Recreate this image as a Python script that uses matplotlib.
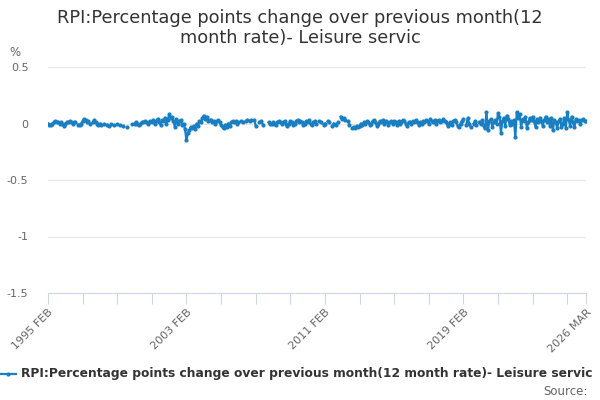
import numpy as np
import matplotlib
matplotlib.use("Agg")
import matplotlib.pyplot as plt
from matplotlib.lines import Line2D

nan = np.nan
title = "RPI:Percentage points change over previous month(12\nmonth rate)- Leisure servic"
series_name = "RPI:Percentage points change over previous month(12 month rate)- Leisure servic"
start_year, start_month = 1995, 2

y1995 = [0.00, -0.01, -0.01, 0.00, 0.01, 0.02, 0.01, 0.01, 0.00, 0.01, 0.00]
y1996 = [-0.02, 0.00, 0.01, 0.01, 0.02, 0.01, 0.00, 0.01, 0.01, nan, -0.01, -0.01]
y1997 = [0.00, 0.02, 0.04, 0.03, 0.01, 0.02, 0.00, nan, 0.01, 0.03, 0.01, 0.00]
y1998 = [-0.01, 0.00, -0.01, nan, 0.00, nan, -0.01, -0.02, nan, 0.00, nan, -0.01]
y1999 = [nan, 0.00, nan, -0.01, nan, -0.02, nan, nan, -0.03, nan, nan, 0.00]
y2000 = [nan, 0.00, 0.01, 0.00, -0.01, 0.00, 0.01, 0.01, 0.02, 0.01, 0.00, 0.01]
y2001 = [0.02, 0.01, 0.03, 0.00, 0.02, 0.04, 0.01, -0.01, 0.03, 0.02, 0.05, 0.00]
y2002 = [0.03, 0.08, 0.05, 0.06, 0.02, -0.03, 0.04, 0.00, 0.02, 0.03, -0.01, 0.00]
y2003 = [-0.05, -0.15, -0.08, -0.06, -0.03, -0.04, -0.02, -0.05, 0.00, -0.02, 0.02, 0.01]
y2004 = [0.05, 0.07, 0.04, 0.06, 0.02, 0.03, 0.03, 0.01, 0.02, 0.00, 0.02, 0.03]
y2005 = [0.01, -0.01, -0.03, -0.04, -0.01, -0.03, 0.00, -0.02, 0.01, 0.02, 0.01, 0.02]
y2006 = [0.00, 0.01, nan, 0.02, 0.01, nan, 0.02, 0.03, nan, 0.02, 0.03, nan]
y2007 = [0.03, -0.02, nan, 0.01, nan, 0.02, -0.01, nan, nan, nan, 0.01, 0.00]
y2008 = [0.00, 0.01, 0.00, -0.01, 0.01, 0.02, 0.01, 0.00, 0.01, 0.02, 0.00, -0.02]
y2009 = [0.00, 0.02, 0.01, -0.01, 0.00, 0.02, 0.03, 0.01, 0.02, 0.01, -0.01, 0.00]
y2010 = [0.02, 0.01, 0.03, 0.00, -0.01, 0.01, 0.02, 0.00, nan, 0.02, 0.01, nan]
y2011 = [-0.01, 0.00, nan, 0.02, 0.01, nan, -0.02, 0.00, nan, -0.01, 0.01, nan]
y2012 = [0.06, 0.04, 0.05, 0.03, nan, 0.02, -0.01, nan, -0.04, -0.03, -0.04, -0.02]
y2013 = [-0.03, -0.02, 0.00, -0.01, 0.01, 0.00, 0.02, 0.01, -0.01, 0.00, 0.02, 0.03]
y2014 = [0.01, -0.02, 0.00, 0.02, 0.01, 0.03, 0.00, 0.02, 0.01, -0.01, 0.01, 0.02]
y2015 = [0.00, 0.02, 0.01, -0.01, 0.02, 0.00, 0.01, 0.03, 0.02, 0.00, -0.02, 0.01]
y2016 = [0.01, 0.00, 0.02, 0.01, 0.03, 0.01, -0.01, 0.01, 0.00, 0.02, 0.01, 0.03]
y2017 = [0.02, 0.00, 0.04, 0.02, 0.01, 0.03, 0.00, 0.02, 0.03, 0.01, 0.02, 0.04]
y2018 = [0.02, 0.01, -0.02, 0.00, 0.01, -0.01, 0.02, 0.03, 0.01, -0.02, -0.03, 0.00]
y2019 = [0.02, 0.04, nan, -0.01, 0.05, 0.00, -0.03, nan, 0.00, 0.02, -0.01, nan]
y2020 = [0.01, 0.00, 0.03, -0.02, -0.04, 0.10, -0.06, 0.02, 0.04, -0.03, 0.01, 0.03]
y2021 = [0.00, 0.09, 0.06, -0.08, 0.02, 0.05, -0.02, 0.07, 0.04, -0.01, 0.02, 0.00]
y2022 = [0.03, -0.12, 0.10, 0.05, 0.08, -0.03, 0.04, 0.02, 0.06, -0.04, 0.01, 0.05]
y2023 = [0.03, 0.06, 0.02, -0.03, 0.04, 0.01, 0.05, 0.02, -0.02, 0.03, 0.06, 0.01]
y2024 = [0.04, -0.02, 0.05, -0.06, 0.03, 0.01, -0.04, 0.02, 0.04, -0.03, 0.00, 0.05]
y2025 = [-0.04, 0.10, 0.03, -0.02, 0.06, 0.01, -0.03, 0.04, 0.02, 0.03, 0.00, 0.03]
y2026 = [0.04, 0.02, 0.02]

values = (y1995 + y1996 + y1997 + y1998 + y1999 + y2000 + y2001 + y2002 + y2003
          + y2004 + y2005 + y2006 + y2007 + y2008 + y2009 + y2010 + y2011 + y2012
          + y2013 + y2014 + y2015 + y2016 + y2017 + y2018 + y2019 + y2020 + y2021
          + y2022 + y2023 + y2024 + y2025 + y2026)
values = np.array(values, dtype=float)
x = np.arange(len(values))

months = ["JAN", "FEB", "MAR", "APR", "MAY", "JUN", "JUL", "AUG", "SEP", "OCT", "NOV", "DEC"]
def label(i):
    m = start_month - 1 + i
    return f"{start_year + m // 12} {months[m % 12]}"

yticks = [0.5, 0, -0.5, -1, -1.5]
ytick_labels = ["0.5", "0", "-0.5", "-1", "-1.5"]

color = "#1a7fc1"
fig = plt.figure(figsize=(6, 4), dpi=100)
ax = fig.add_axes([0.08, 0.2675, 0.8967, 0.565])
ax.plot(x, values, color=color, lw=1.6, marker="o", ms=3.0, mew=0)
ax.set_xlim(0, len(values) - 1)
ax.set_ylim(-1.5, 0.5)
ax.set_yticks(yticks)
ax.set_yticklabels(ytick_labels)
ax.grid(axis="y", color="#e6e6e6", lw=0.8)
ax.set_axisbelow(True)
for s in ["top", "right", "left"]:
    ax.spines[s].set_visible(False)
ax.spines["bottom"].set_color("#ccd6eb")
ax.tick_params(axis="y", length=0, labelsize=8, labelcolor="#666666", pad=14)

minor = list(range(0, len(values), 24)) + [len(values) - 1]
major = [0, 96, 192, 288, len(values) - 1]
ax.set_xticks(minor)
ax.set_xticklabels([label(i) if i in major else "" for i in minor],
                   rotation=45, ha="right", rotation_mode="anchor")
ax.tick_params(axis="x", length=8, color="#ccd6eb", labelsize=8, labelcolor="#666666", pad=2)

fig.text(0.5, 0.93, title, ha="center", va="center", fontsize=12.8,
         color="#333333", linespacing=1.2)
fig.text(0.015, 0.868, "%", fontsize=8.5, color="#666666", va="center")

fig.add_artist(Line2D([0.0, 0.027], [0.066, 0.066], color=color, lw=1.6,
                      transform=fig.transFigure))
fig.add_artist(Line2D([0.0135], [0.066], color=color, marker="o", ms=3.0, mew=0,
                      transform=fig.transFigure))
fig.text(0.035, 0.066, series_name, fontsize=8.85, fontweight="bold",
         color="#333333", va="center", ha="left")
fig.text(0.98, 0.022, "Source:", fontsize=8.5, color="#666666", va="center", ha="right")

fig.savefig("out.png", dpi=100)
